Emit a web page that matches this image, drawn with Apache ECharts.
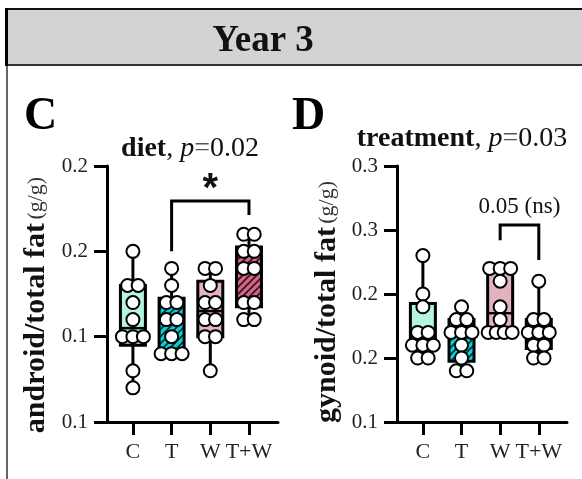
<!DOCTYPE html>
<html>
<head>
<meta charset="utf-8">
<script src="https://cdn.jsdelivr.net/npm/echarts@6/dist/echarts.min.js"></script>
<style>
  html, body { margin: 0; padding: 0; background: #fff; }
  #chart { width: 582px; height: 479px; }
</style>
</head>
<body>
<div id="chart"></div>
<script>
// Groups shared by both panels
const groups = ['C', 'T', 'W', 'T+W'];

// Panel C: android / total fat, one list of animals per group
const androidC = [0.20, 0.18, 0.18, 0.17, 0.16, 0.15, 0.15, 0.15, 0.13, 0.12];
const androidT = [0.19, 0.18, 0.17, 0.17, 0.16, 0.16, 0.15, 0.14, 0.14, 0.14];
const androidW = [0.19, 0.19, 0.18, 0.17, 0.17, 0.16, 0.16, 0.15, 0.15, 0.13];
const androidTW = [0.21, 0.21, 0.20, 0.20, 0.19, 0.19, 0.17, 0.17, 0.16, 0.16];
const androidTicks = [0.10, 0.15, 0.20, 0.25];
const androidTickLabels = ['0.1', '0.1', '0.2', '0.2'];

// Panel D: gynoid / total fat
const gynoidC = [0.23, 0.20, 0.19, 0.17, 0.17, 0.16, 0.16, 0.16, 0.15, 0.15];
const gynoidT = [0.19, 0.18, 0.18, 0.17, 0.17, 0.17, 0.16, 0.15, 0.14, 0.14];
const gynoidW = [0.22, 0.22, 0.22, 0.21, 0.19, 0.18, 0.17, 0.17, 0.17, 0.17];
const gynoidTW = [0.21, 0.18, 0.18, 0.17, 0.17, 0.17, 0.16, 0.16, 0.15, 0.15];
const gynoidTicks = [0.10, 0.15, 0.20, 0.25, 0.30];
const gynoidTickLabels = ['0.1', '0.2', '0.2', '0.3', '0.3'];

// Pairwise comparison annotations (group indices, bracket height, leg ends, label)
const androidBracket = { from: 1, to: 3, top: 0.2295, leftEnd: 0.20, rightEnd: 0.2213, text: '*', textAt: 0.236 };
const gynoidBracket = { from: 2, to: 3, top: 0.2539, leftEnd: 0.242, rightEnd: 0.2266, text: '0.05 (ns)', textAt: 0.268 };

const SERIF = '"Liberation Serif", "DejaVu Serif", serif';

// Quartiles with the (n+1) percentile rule
function quantile(sorted, p) {
  const n = sorted.length;
  let pos = p * (n + 1);
  if (pos < 1) pos = 1;
  if (pos > n) pos = n;
  const lo = Math.floor(pos), frac = pos - lo;
  const a = sorted[lo - 1], b = sorted[Math.min(lo, n - 1)];
  return a + frac * (b - a);
}
function boxStats(list) {
  const s = list.slice().sort((a, b) => a - b);
  return [s[0], quantile(s, 0.25), quantile(s, 0.5), quantile(s, 0.75), s[s.length - 1]];
}

// Diagonal hatch tiles
function hatch(bg, ink) {
  const size = 7;
  const c = document.createElement('canvas');
  c.width = size; c.height = size;
  const g = c.getContext('2d');
  g.fillStyle = bg; g.fillRect(0, 0, size, size);
  g.strokeStyle = ink; g.lineWidth = 1.6;
  g.beginPath();
  g.moveTo(-1, size + 1); g.lineTo(size + 1, -1);
  g.moveTo(-1, 1); g.lineTo(1, -1);
  g.moveTo(size - 1, size + 1); g.lineTo(size + 1, size - 1);
  g.stroke();
  return { image: c, repeat: 'repeat' };
}
const groupFills = [
  '#b4f5dc',
  hatch('#00d6d9', '#0a2a2a'),
  '#e2b3bf',
  hatch('#cf6a86', '#3a0c1c')
];

function renderBox(params, api) {
  const i = api.value(0);
  const lo = api.coord([i, api.value(1)]);
  const q1 = api.coord([i, api.value(2)]);
  const md = api.coord([i, api.value(3)]);
  const q3 = api.coord([i, api.value(4)]);
  const hi = api.coord([i, api.value(5)]);
  const x = lo[0], hw = 12.5;
  const ink = { stroke: '#000', lineWidth: 3 };
  return {
    type: 'group',
    children: [
      { type: 'line', shape: { x1: x, y1: lo[1], x2: x, y2: q1[1] }, style: ink },
      { type: 'line', shape: { x1: x, y1: q3[1], x2: x, y2: hi[1] }, style: ink },
      { type: 'rect', shape: { x: x - hw, y: q3[1], width: hw * 2, height: q1[1] - q3[1] },
        style: { fill: groupFills[i], stroke: '#000', lineWidth: 3 } },
      { type: 'line', shape: { x1: x - hw, y1: md[1], x2: x + hw, y2: md[1] }, style: { stroke: '#000', lineWidth: 2.5 } }
    ]
  };
}

function renderBracket(font) {
  return function (params, api) {
    const a = api.coord([api.value(0), api.value(2)]);
    const b = api.coord([api.value(1), api.value(2)]);
    const la = api.coord([api.value(0), api.value(3)]);
    const rb = api.coord([api.value(1), api.value(4)]);
    const t = api.coord([(api.value(0) + api.value(1)) / 2, api.value(5)]);
    return {
      type: 'group',
      children: [
        { type: 'polyline', shape: { points: [[la[0], la[1]], [a[0], a[1]], [b[0], b[1]], [rb[0], rb[1]]] },
          style: { stroke: '#000', lineWidth: 3, fill: null } },
        { type: 'text', x: t[0], y: t[1],
          style: { text: font.text, font: font.font, fill: '#111', align: 'center', verticalAlign: 'middle' } }
      ]
    };
  };
}

// Spread tied values side by side, like a dot strip
function swarm(lists) {
  const out = [];
  lists.forEach((vals, i) => {
    const rows = new Map();
    vals.forEach(v => {
      const k = v.toFixed(4);
      rows.set(k, (rows.get(k) || 0) + 1);
    });
    rows.forEach((n, k) => {
      const step = n >= 4 ? 8 : 10.5;
      for (let j = 0; j < n; j++) {
        out.push({ value: [i, parseFloat(k)], symbolOffset: [(j - (n - 1) / 2) * step, 0] });
      }
    });
  });
  return out;
}

function xAxisFor(gridIndex, max) {
  return {
    type: 'value', gridIndex, min: -0.67, max,
    axisLine: { onZero: false, lineStyle: { color: '#000', width: 3 } },
    axisTick: { customValues: [0, 1, 2, 3], length: 13, lineStyle: { color: '#000', width: 3 } },
    axisLabel: { customValues: [0, 1, 2, 3], formatter: v => groups[Math.round(v)],
      fontFamily: SERIF, fontSize: 22, color: '#222', margin: 19 },
    splitLine: { show: false }
  };
}
function yAxisFor(gridIndex, ticks, labels) {
  return {
    type: 'value', gridIndex, min: ticks[0], max: ticks[ticks.length - 1], interval: 0.05,
    axisLine: { show: true, onZero: false, lineStyle: { color: '#000', width: 3 } },
    axisTick: { show: true, length: 13, lineStyle: { color: '#000', width: 3 } },
    axisLabel: {
      formatter: v => { const k = ticks.findIndex(t => Math.abs(t - v) < 1e-6); return k < 0 ? '' : labels[k]; },
      fontFamily: SERIF, fontSize: 21, color: '#222', margin: 19
    },
    splitLine: { show: false }
  };
}

const androidLists = [androidC, androidT, androidW, androidTW];
const gynoidLists = [gynoidC, gynoidT, gynoidW, gynoidTW];

const pointStyle = { color: '#fff', borderColor: '#000', borderWidth: 2, opacity: 1 };

function titleRich(size) {
  return {
    b: { font: 'bold ' + size + 'px ' + SERIF, fill: '#111' },
    n: { font: size + 'px ' + SERIF, fill: '#111' },
    i: { font: 'italic ' + size + 'px ' + SERIF, fill: '#111' },
    g: { font: size + 'px ' + SERIF, fill: '#555' }
  };
}
const axisTitleRich = {
  b: { font: 'bold 30px ' + SERIF, fill: '#111' },
  s: { font: '22px ' + SERIF, fill: '#333' }
};

const chart = echarts.init(document.getElementById('chart'), null, { renderer: 'canvas' });
chart.setOption({
  animation: false,
  backgroundColor: '#fff',
  grid: [
    { left: 107, top: 166, width: 171, height: 256 },
    { left: 397, top: 166, width: 170, height: 256 }
  ],
  xAxis: [xAxisFor(0, 3.75), xAxisFor(1, 3.73)],
  yAxis: [yAxisFor(0, androidTicks, androidTickLabels), yAxisFor(1, gynoidTicks, gynoidTickLabels)],
  graphic: [
    // header band
    { type: 'rect', shape: { x: 6, y: 8, width: 600, height: 57 }, style: { fill: '#d3d3d3' }, silent: true },
    { type: 'line', shape: { x1: 6, y1: 9, x2: 600, y2: 9 }, style: { stroke: '#111', lineWidth: 2 } },
    { type: 'line', shape: { x1: 6, y1: 65, x2: 600, y2: 65 }, style: { stroke: '#333', lineWidth: 2 } },
    { type: 'line', shape: { x1: 6.5, y1: 8, x2: 6.5, y2: 66 }, style: { stroke: '#000', lineWidth: 3 } },
    { type: 'line', shape: { x1: 7, y1: 66, x2: 7, y2: 479 }, style: { stroke: '#333', lineWidth: 1.5 } },
    { type: 'text', x: 263, y: 41, style: { text: 'Year 3', font: 'bold 37px ' + SERIF, fill: '#111', align: 'center', verticalAlign: 'middle' } },
    // panel letters
    { type: 'text', x: 24, y: 117, style: { text: 'C', font: 'bold 46px ' + SERIF, fill: '#000', align: 'left', verticalAlign: 'middle' } },
    { type: 'text', x: 292, y: 117, style: { text: 'D', font: 'bold 46px ' + SERIF, fill: '#000', align: 'left', verticalAlign: 'middle' } },
    // panel titles
    { type: 'text', x: 190, y: 149, style: {
        text: '{b|diet}{n|, }{i|p}{g|=}{n|0.02}', align: 'center', verticalAlign: 'middle', rich: titleRich(28) } },
    { type: 'text', x: 462, y: 139, style: {
        text: '{b|treatment}{n|, }{i|p}{g|=}{n|0.03}', align: 'center', verticalAlign: 'middle', rich: titleRich(28) } },
    // y-axis titles
    { type: 'text', x: 36, y: 305, rotation: Math.PI / 2, style: {
        text: '{b|android/total fat} {s|(g/g)}', align: 'center', verticalAlign: 'middle', rich: axisTitleRich } },
    { type: 'text', x: 327, y: 302, rotation: Math.PI / 2, style: {
        text: '{b|gynoid/total fat} {s|(g/g)}', align: 'center', verticalAlign: 'middle', rich: axisTitleRich } }
  ],
  series: [
    { type: 'custom', xAxisIndex: 0, yAxisIndex: 0, renderItem: renderBox, z: 2,
      data: androidLists.map((l, i) => [i].concat(boxStats(l))) },
    { type: 'scatter', xAxisIndex: 0, yAxisIndex: 0, symbol: 'circle', symbolSize: 13, z: 3,
      itemStyle: pointStyle, data: swarm(androidLists) },
    { type: 'custom', xAxisIndex: 0, yAxisIndex: 0, z: 2,
      renderItem: renderBracket({ text: androidBracket.text, font: 'bold 40px "Liberation Sans", sans-serif' }),
      data: [[androidBracket.from, androidBracket.to, androidBracket.top, androidBracket.leftEnd, androidBracket.rightEnd, androidBracket.textAt]] },

    { type: 'custom', xAxisIndex: 1, yAxisIndex: 1, renderItem: renderBox, z: 2,
      data: gynoidLists.map((l, i) => [i].concat(boxStats(l))) },
    { type: 'scatter', xAxisIndex: 1, yAxisIndex: 1, symbol: 'circle', symbolSize: 13, z: 3,
      itemStyle: pointStyle, data: swarm(gynoidLists) },
    { type: 'custom', xAxisIndex: 1, yAxisIndex: 1, z: 2,
      renderItem: renderBracket({ text: gynoidBracket.text, font: '23px ' + SERIF }),
      data: [[gynoidBracket.from, gynoidBracket.to, gynoidBracket.top, gynoidBracket.leftEnd, gynoidBracket.rightEnd, gynoidBracket.textAt]] }
  ]
});
</script>
</body>
</html>
